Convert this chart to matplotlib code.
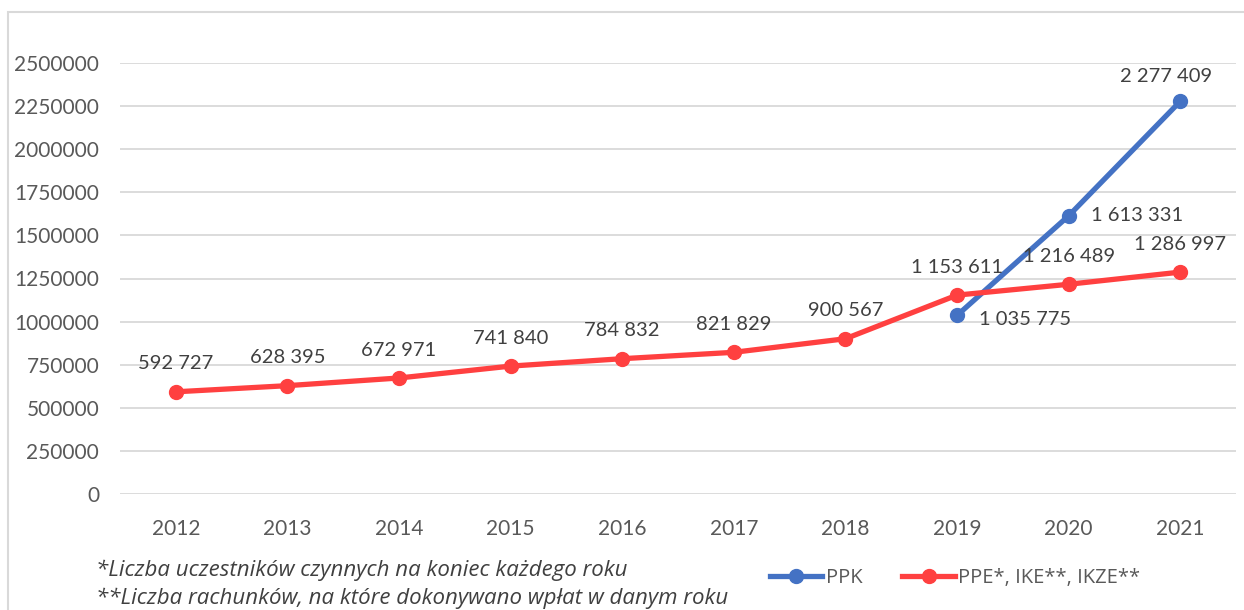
import matplotlib.pyplot as plt
from matplotlib.patches import Rectangle

years = ['2012', '2013', '2014', '2015', '2016', '2017', '2018', '2019', '2020', '2021']
ppe = [592727, 628395, 672971, 741840, 784832, 821829, 900567, 1153611, 1216489, 1286997]
ppk_years = ['2019', '2020', '2021']
ppk = [1035775, 1613331, 2277409]
yticks = [0, 250000, 500000, 750000, 1000000, 1250000, 1500000, 1750000, 2000000, 2250000, 2500000]

blue = '#4472C4'
red = '#FF4040'
txt = '#404040'


def fmt(v):
    return f'{v:,}'.replace(',', ' ')


plt.rcParams['font.family'] = ['Lato', 'DejaVu Sans']

fig = plt.figure(figsize=(12.44, 6.10), dpi=100)
fig.patches.append(Rectangle((8 / 1244, -0.1), 1.2, 1 - 12 / 610 + 0.1, transform=fig.transFigure,
                             fill=False, edgecolor='#D9D9D9', linewidth=1.5))
ax = fig.add_axes([120 / 1244, 1 - 494 / 610, 1116 / 1244, 431 / 610])

xi = list(range(len(years)))
pk = [years.index(y) for y in ppk_years]

ax.plot(pk, ppk, color=blue, lw=3.8, marker='o', ms=10, label='PPK', zorder=3)
ax.plot(xi, ppe, color=red, lw=3.8, marker='o', ms=10, label='PPE*, IKE**, IKZE**', zorder=3)

for x, v in zip(xi, ppe):
    ax.annotate(fmt(v), (x, v), xytext=(0, 14), textcoords='offset points', ha='center', va='bottom',
                fontsize=14.5, color=txt)
offs = [(16, -3, 'left', 'center'), (16, 0, 'left', 'center'), (-10, 12, 'center', 'bottom')]
for x, v, (dx, dy, ha, va) in zip(pk, ppk, offs):
    ax.annotate(fmt(v), (x, v), xytext=(dx, dy), textcoords='offset points', ha=ha, va=va,
                fontsize=14.5, color=txt)

ax.set_xlim(-0.5, len(years) - 0.5)
ax.set_ylim(0, 2500000)
ax.set_xticks(xi)
ax.set_xticklabels(years)
ax.set_yticks(yticks)
ax.set_yticklabels([str(t) for t in yticks])
ax.tick_params(length=0, labelsize=15, labelcolor='#595959')
ax.tick_params(axis='y', pad=15)
ax.tick_params(axis='x', pad=18)
ax.grid(axis='y', color='#D9D9D9', lw=1.3)
ax.set_axisbelow(True)
for s in ax.spines.values():
    s.set_visible(False)

fig.legend(loc='center left', bbox_to_anchor=(752 / 1244, 1 - 578 / 610), ncol=2, frameon=False,
           prop={'family': 'Open Sans', 'size': 14.5}, handlelength=2.6, columnspacing=2.0,
           handletextpad=0.15, labelcolor='#595959')

fig.text(96 / 1244, 1 - 570 / 610, '*Liczba uczestników czynnych na koniec każdego roku', fontsize=16,
         family='Open Sans', style='italic', color='#404040', va='center')
fig.text(96 / 1244, 1 - 598 / 610, '**Liczba rachunków, na które dokonywano wpłat w danym roku', fontsize=16,
         family='Open Sans', style='italic', color='#404040', va='center')

fig.savefig('out.png', dpi=100)
